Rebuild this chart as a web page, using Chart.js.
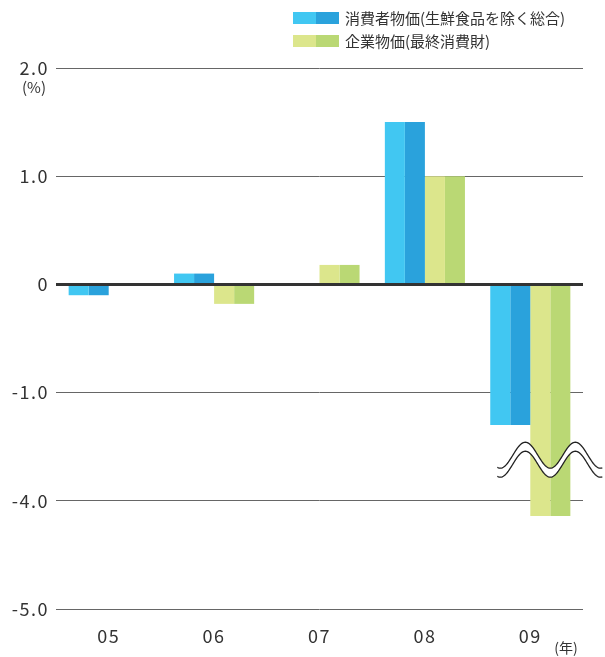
<!DOCTYPE html>
<html>
<head>
<meta charset="utf-8">
<script src="https://cdn.jsdelivr.net/npm/chart.js@4"></script>
<style>
  html, body { margin: 0; padding: 0; background: #fff; }
  canvas { display: block; }
</style>
</head>
<body>
<canvas id="price-chart" width="605" height="657"></canvas>
<script>
  // データ（年・系列）
  const years = ["05", "06", "07", "08", "09"];
  const consumerPrices = [-0.1, 0.1, 0, 1.5, -1.3]; // 消費者物価（生鮮食品を除く総合）
  const corporatePrices = [0, -0.18, 0.18, 1.0, -4.14]; // 企業物価（最終消費財）
  const seriesNames = ["消費者物価(生鮮食品を除く総合)", "企業物価(最終消費財)"];
  const tickValues = [2, 1, 0, -1, -4, -5]; // 目盛り（実数値）

  const fontFamily = "'Noto Sans CJK JP', 'Noto Sans', sans-serif";
  const cyanLight = "#41c7f2", cyanDark = "#2aa2dc";
  const greenLight = "#dce68c", greenDark = "#bad874";

  // 省略軸: -2 〜 -4 の間を波線で省略
  function toAxis(v) {
    return v <= -3.6 ? v + 2 : v;
  }
  function fromAxis(d) {
    return d <= -1.6 ? d - 2 : d;
  }

  const extras = {
    id: "extras",
    beforeDraw(chart) {
      chart.ctx.letterSpacing = "1.5px";
    },
    afterDatasetsDraw(chart) {
      const { ctx, chartArea, scales } = chart;
      const y = scales.y;
      ctx.save();
      ctx.letterSpacing = "0px";

      // 0 の線
      const y0 = y.getPixelForValue(0);
      ctx.strokeStyle = "#333";
      ctx.lineWidth = 3;
      ctx.beginPath();
      ctx.moveTo(chartArea.left, y0);
      ctx.lineTo(chartArea.right, y0);
      ctx.stroke();

      // 波線（省略記号）
      const m2 = chart.getDatasetMeta(2).data[4];
      const m3 = chart.getDatasetMeta(3).data[4];
      const cx = (m2.x + m3.x) / 2;
      const cy = y.getPixelForValue(-1.62);
      const amp = 13, gap = 9, period = 50;
      const x1 = cx - 53, x2 = cx + 52;
      const wave = (x, off) => cy + off + amp * Math.cos((2 * Math.PI * (x - cx)) / period);
      ctx.beginPath();
      for (let x = x1; x <= x2; x += 1) ctx.lineTo(x, wave(x, -gap / 2));
      for (let x = x2; x >= x1; x -= 1) ctx.lineTo(x, wave(x, gap / 2));
      ctx.closePath();
      ctx.fillStyle = "#fff";
      ctx.fill();
      ctx.strokeStyle = "#222";
      ctx.lineWidth = 1.3;
      [-gap / 2, gap / 2].forEach((off) => {
        ctx.beginPath();
        for (let x = x1; x <= x2; x += 1) ctx.lineTo(x, wave(x, off));
        ctx.stroke();
      });

      // 単位
      ctx.fillStyle = "#333";
      ctx.textAlign = "center";
      ctx.textBaseline = "middle";
      ctx.font = "15px " + fontFamily;
      ctx.fillText("(%)", 34, y.getPixelForValue(2) + 19);
      ctx.font = "14px " + fontFamily;
      ctx.fillText("(年)", 566, 648);

      // 凡例
      const legendColors = [[cyanLight, cyanDark], [greenLight, greenDark]];
      ctx.font = "15px " + fontFamily;
      ctx.textAlign = "left";
      seriesNames.forEach((name, i) => {
        const top = 12 + i * 23;
        ctx.fillStyle = legendColors[i][0];
        ctx.fillRect(293, top, 23, 12);
        ctx.fillStyle = legendColors[i][1];
        ctx.fillRect(316, top, 23, 12);
        ctx.fillStyle = "#333";
        ctx.fillText(name, 345, top + 6);
      });
      ctx.restore();
    },
    afterDraw(chart) {
      chart.ctx.letterSpacing = "0px";
    },
  };

  const ctx = document.getElementById("price-chart").getContext("2d");
  const priceChart = new Chart(ctx, {
    type: "bar",
    data: {
      labels: years,
      datasets: [
        { label: seriesNames[0], data: consumerPrices.map(toAxis), backgroundColor: cyanLight },
        { label: seriesNames[0], data: consumerPrices.map(toAxis), backgroundColor: cyanDark },
        { label: seriesNames[1], data: corporatePrices.map(toAxis), backgroundColor: greenLight },
        { label: seriesNames[1], data: corporatePrices.map(toAxis), backgroundColor: greenDark },
      ],
    },
    options: {
      responsive: false,
      animation: false,
      devicePixelRatio: 1,
      categoryPercentage: 0.76,
      barPercentage: 1,
      layout: { padding: { top: 68, right: 22, left: 0, bottom: 0 } },
      plugins: {
        legend: { display: false },
        tooltip: { enabled: false },
      },
      scales: {
        x: {
          grid: { display: false },
          border: { display: false },
          ticks: { color: "#333", font: { family: fontFamily, size: 18 }, padding: 8 },
          afterFit(scale) { scale.height = 48; },
        },
        y: {
          min: -3,
          max: 2,
          afterBuildTicks(scale) {
            scale.ticks = tickValues.map((v) => ({ value: toAxis(v) }));
          },
          ticks: {
            color: "#333",
            font: { family: fontFamily, size: 18 },
            padding: 7,
            callback: (value) => {
              const v = fromAxis(value);
              return v === 0 ? "0" : v.toFixed(1);
            },
          },
          grid: { color: "#666", lineWidth: 1, drawTicks: false },
          border: { display: false },
          afterFit(scale) { scale.width = 56; },
        },
      },
    },
    plugins: [extras],
  });
</script>
</body>
</html>
